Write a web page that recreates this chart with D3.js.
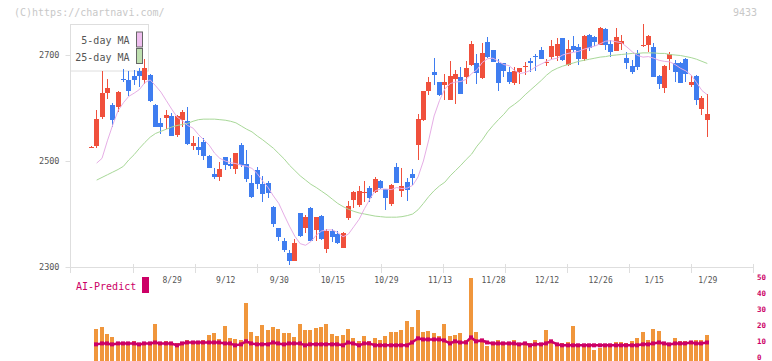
<!DOCTYPE html>
<html><head><meta charset="utf-8">
<script src="https://cdn.jsdelivr.net/npm/d3@7/dist/d3.min.js"></script>
<style>body{margin:0;background:#fff}svg{display:block}</style>
</head><body><svg id="c" width="772" height="361"></svg>
<script>
// ---- data (index 0 = first candle, 115 = 1/29) ----
const openP = [2525,2529,2583,2629,2606,2601,2655,2653,2660,2670,2652,2662,2606,2572,2582,2585,2549,2577,2575,2529,
2526,2535,2509,2475,2469,2507,2495,2485,2530,2494,2459,2483,2457,2459,2414,2373,2349,2326,2312,2401,
2373,2411,2370,2396,2334,2367,2363,2336,2393,2426,2417,2439,2450,2441,2462,2447,2419,2488,2444,2460,
2476,2531,2577,2632,2668,2649,2644,2616,2655,2658,2658,2681,2684,2657,2725,2709,2685,2684,2667,2647,
2668,2679,2689,2699,2709,2685,2696,2699,2732,2682,2717,2715,2693,2737,2734,2719,2750,2720,2708,2721,
2694,2679,2704,2718,2718,2715,2660,2638,2693,2684,2684,2693,2644,2660,2599,2578];
const highP = [2528,2596,2670,2655,2609,2633,2674,2670,2672,2675,2692,2664,2607,2582,2596,2590,2587,2596,2601,2547,
2546,2543,2511,2486,2499,2508,2505,2516,2534,2520,2474,2488,2472,2463,2415,2374,2354,2333,2352,2402,
2398,2413,2395,2398,2371,2371,2367,2366,2424,2443,2452,2462,2452,2470,2464,2448,2456,2497,2486,2468,
2485,2589,2633,2658,2694,2650,2665,2689,2672,2677,2688,2726,2701,2723,2734,2710,2693,2685,2677,2677,
2676,2686,2694,2701,2715,2693,2729,2732,2733,2728,2736,2721,2737,2740,2736,2753,2751,2728,2751,2737,
2706,2691,2709,2759,2737,2723,2662,2681,2706,2690,2686,2694,2662,2662,2623,2627];
const lowP = [2524,2525,2579,2617,2565,2592,2650,2623,2643,2640,2646,2612,2564,2551,2560,2547,2546,2565,2531,2521,
2511,2502,2486,2466,2462,2483,2485,2475,2489,2460,2431,2447,2423,2430,2376,2350,2329,2304,2311,2356,
2365,2349,2350,2351,2326,2348,2343,2336,2389,2411,2414,2423,2423,2439,2447,2407,2415,2458,2433,2424,
2454,2501,2575,2625,2644,2623,2616,2615,2608,2626,2646,2680,2646,2654,2695,2686,2632,2658,2646,2643,
2646,2662,2668,2669,2692,2679,2692,2688,2689,2679,2706,2682,2688,2707,2717,2718,2709,2696,2708,2709,
2674,2665,2671,2716,2706,2659,2636,2628,2672,2649,2647,2649,2640,2606,2587,2545];
const closeP = [2527,2579,2628,2638,2578,2631,2652,2633,2653,2661,2675,2614,2565,2565,2587,2548,2584,2593,2533,2534,
2521,2510,2487,2469,2485,2492,2490,2515,2492,2466,2433,2456,2437,2440,2382,2357,2332,2312,2346,2358,
2394,2350,2394,2352,2368,2356,2346,2365,2415,2441,2443,2442,2431,2466,2450,2431,2455,2459,2453,2446,
2467,2579,2632,2649,2663,2625,2649,2660,2665,2627,2675,2720,2666,2704,2696,2687,2647,2670,2649,2670,
2676,2680,2684,2698,2693,2686,2717,2720,2690,2711,2709,2693,2736,2713,2725,2751,2718,2706,2734,2726,
2684,2668,2677,2719,2736,2659,2646,2679,2701,2668,2648,2665,2649,2616,2619,2588];
const ma5 = [null,2496,2505,2538,2568,2595,2610,2622,2628,2635,2648,2653,2642,2630,2614,2598,2583,2576,2567,2562,
2550,2540,2530,2515,2505,2500,2497,2495,2492,2490,2486,2476,2462,2450,2434,2420,2398,2377,2358,2344,
2341,2348,2360,2368,2370,2370,2365,2357,2362,2376,2390,2410,2428,2444,2447,2447,2446,2450,2448,2449,
2454,2470,2500,2540,2585,2614,2636,2646,2649,2650,2654,2665,2672,2686,2693,2694,2688,2682,2680,2671,
2665,2667,2671,2678,2683,2688,2692,2694,2700,2703,2705,2707,2711,2714,2717,2721,2726,2727,2725,2723,
2715,2706,2699,2696,2697,2694,2690,2688,2687,2682,2675,2670,2662,2648,2633,2625];
const ma25 = [null,2464,2469,2474,2479,2484,2490,2502,2512,2524,2535,2545,2552,2556,2560,2564,2567,2569,2571,2575,
2578,2579,2579,2579,2578,2577,2575,2572,2566,2560,2555,2547,2540,2532,2524,2514,2504,2492,2482,2472,
2464,2456,2450,2443,2436,2428,2420,2414,2409,2405,2402,2400,2398,2396,2395,2394,2394,2394,2395,2397,
2400,2408,2420,2433,2444,2453,2460,2472,2482,2492,2503,2513,2528,2540,2555,2567,2578,2588,2600,2607,
2615,2625,2634,2643,2652,2662,2670,2675,2679,2682,2685,2688,2690,2692,2694,2696,2697,2699,2700,2701,
2702,2703,2703,2704,2704,2704,2703,2703,2701,2700,2699,2697,2695,2692,2688,2684];
const volume = [null,17.8,19.1,14.7,12.8,9.2,9.0,9.0,10.3,8.4,9.0,9.0,21.0,9.0,10.3,9.0,9.0,7.8,10.9,9.5,
9.8,10.9,14.0,15.7,11.5,19.7,12.2,11.5,10.9,34.2,15.9,13.4,20.3,17.2,19.1,17.8,15.3,15.3,12.8,21.0,
17.2,17.2,18.4,19.1,21.0,14.7,13.4,14.0,17.8,12.2,10.3,13.4,10.3,12.2,10.9,13.4,15.9,15.9,17.2,22.9,
19.1,29.8,15.9,16.6,15.3,13.4,21.0,13.4,14.0,15.3,11.3,49.9,15.9,10.9,7.1,9.6,10.9,9.6,9.0,10.9,
9.0,9.0,9.0,10.9,8.4,17.2,10.9,9.0,9.0,9.6,19.7,8.4,7.8,7.8,4.6,5.9,7.8,7.8,9.6,9.6,
9.0,10.3,12.2,15.9,10.9,17.8,16.6,9.0,7.8,12.2,10.3,10.3,10.3,10.9,10.9,14.0];
const aiPredict = [null,8.4,9,9,8.4,9,9,9,9,8.4,9,9,9.6,9,9,9,7.8,9,9.6,9.6,
9.6,9.6,9.6,9.6,9.6,9,9,7.8,8.4,10.3,9,8.4,8.4,8.4,9.6,9,8.4,9,9,9,
7.8,8.4,8.4,8.4,8.4,8.4,8.4,7.8,9.6,9,7.8,9,9,7.8,7.8,7.8,7.8,7.8,7.8,7.8,
9.6,12.2,11.5,11.5,11.5,11.5,10.9,9,10.3,9.6,9.6,12.8,10.3,10.9,9.6,9,9,9,9,9,
8.4,9,7.8,8.4,8.4,9,10.3,8.4,7.8,7.8,7.8,7.8,7.8,7.8,7.8,7.8,7.8,7.8,7.8,7.8,
7.8,7.8,7.8,8.4,8.4,9,9.6,9,8.4,9,9,9,9.6,9,9,9.6];
const dateLabels = ["8/29","9/12","9/30","10/15","10/29","11/13","11/28","12/12","12/26","1/15","1/29"];
const dateIndex = [15,25,35,45,55,65,75,85,95,105,115];
const priceTicks = [2300,2500,2700];
const volTicks = [0,10,20,30,40,50];
const legendNames = ["5-day MA","25-day MA"];

// ---- drawing ----
const svg = d3.select("#c");
const mono = "'DejaVu Sans Mono', monospace";
const RED = "#f0503c", BLUE = "#3f7df0", GRID = "#dedede";
const N = closeP.length;
const x = d3.scaleLinear().domain([0, N - 1]).range([91.3, 707.3]);
const y = d3.scaleLinear().domain([2300, 2700]).range([267, 55]);
const yv = d3.scaleLinear().domain([0, 50]).range([357.7, 278.3]);
const gx = d3.scaleLinear().domain([0, 11]).range([70.5, 752.5]);
const left = i => Math.round(x(i) - 2.5);

svg.append("rect").attr("width", 772).attr("height", 361).attr("fill", "#fff");

// watermark
svg.append("text").attr("x", 14).attr("y", 12.5).attr("dominant-baseline", "central")
  .attr("font-family", mono).attr("font-size", 10).attr("fill", "#c8c8c8").text("(C)https://chartnavi.com/");
svg.append("text").attr("x", 757).attr("y", 12.5).attr("text-anchor", "end").attr("dominant-baseline", "central")
  .attr("font-family", mono).attr("font-size", 10).attr("fill", "#c8c8c8").text("9433");

// axes frame
svg.append("line").attr("x1", 70.5).attr("x2", 70.5).attr("y1", 24).attr("y2", 273).attr("stroke", GRID);
svg.append("line").attr("x1", 70).attr("x2", 753).attr("y1", 267.5).attr("y2", 267.5).attr("stroke", GRID);
svg.append("g").selectAll("line").data(d3.range(1, 12)).join("line")
  .attr("x1", d => Math.round(gx(d)) + 0.5).attr("x2", d => Math.round(gx(d)) + 0.5)
  .attr("y1", 264).attr("y2", 273).attr("stroke", GRID);

// y axis
const ya = svg.append("g").attr("transform", "translate(70.5,0)")
  .call(d3.axisLeft(y).tickValues(priceTicks).tickSize(5).tickPadding(6).tickFormat(d3.format("d")));
ya.select(".domain").remove();
ya.selectAll("line").attr("stroke", GRID);
ya.selectAll("text").attr("font-family", mono).attr("font-size", 8.5).attr("fill", "#555");

// date labels
const xa = svg.append("g").attr("transform", "translate(0,277)")
  .call(d3.axisBottom(x).tickValues(dateIndex).tickSize(0).tickPadding(0)
    .tickFormat((d, k) => dateLabels[k]));
xa.select(".domain").remove();
xa.selectAll("text").attr("font-family", mono).attr("font-size", 8).attr("fill", "#555");

// legend
svg.append("rect").attr("x", 70.5).attr("y", 24.5).attr("width", 78).attr("height", 46.5)
  .attr("fill", "#fff").attr("stroke", GRID);
const legCol = ["#efbfef", "#bfe0b0"];
legendNames.forEach((nm, k) => {
  const cy = 40.5 + k * 16.5;
  svg.append("text").attr("x", 129.5).attr("y", cy).attr("text-anchor", "end").attr("dominant-baseline", "central")
    .attr("font-family", mono).attr("font-size", 10).attr("fill", "#555").text(nm);
  svg.append("rect").attr("x", 136.5).attr("y", cy - 8.5).attr("width", 6).attr("height", 15)
    .attr("fill", legCol[k]).attr("stroke", "#666");
});

// candles
const idx = d3.range(N);
const cg = svg.append("g");
cg.selectAll("rect.w").data(idx).join("rect").attr("class", "w")
  .attr("x", i => left(i) + 2).attr("width", 1)
  .attr("y", i => Math.round(y(highP[i])))
  .attr("height", i => Math.max(1, Math.round(y(lowP[i])) - Math.round(y(highP[i]))))
  .attr("fill", i => closeP[i] >= openP[i] ? RED : BLUE);
cg.selectAll("rect.b").data(idx).join("rect").attr("class", "b")
  .attr("x", i => left(i)).attr("width", 5)
  .attr("y", i => Math.round(y(Math.max(openP[i], closeP[i]))))
  .attr("height", i => Math.max(1, Math.round(y(Math.min(openP[i], closeP[i]))) - Math.round(y(Math.max(openP[i], closeP[i])))))
  .attr("fill", i => closeP[i] >= openP[i] ? RED : BLUE);

// moving averages
const maLine = arr => d3.line().defined(i => arr[i] != null).x(i => x(i)).y(i => y(arr[i]))(idx);
svg.append("path").attr("d", maLine(ma25)).attr("fill", "none").attr("stroke", "#a8d898").attr("stroke-width", 1);
svg.append("path").attr("d", maLine(ma5)).attr("fill", "none").attr("stroke", "#e6aee6").attr("stroke-width", 1);

// AI-Predict panel
svg.append("text").attr("x", 76).attr("y", 286).attr("dominant-baseline", "central")
  .attr("font-family", mono).attr("font-size", 10).attr("fill", "#cc0066").text("AI-Predict");
svg.append("rect").attr("x", 142).attr("y", 277).attr("width", 7).attr("height", 16).attr("fill", "#cc0066");

const vIdx = idx.filter(i => volume[i] != null);
svg.append("g").selectAll("rect").data(vIdx).join("rect")
  .attr("x", i => left(i)).attr("width", 4)
  .attr("y", i => Math.round(yv(volume[i])))
  .attr("height", i => 361 - Math.round(yv(volume[i])))
  .attr("fill", "#f0963c");

const aIdx = idx.filter(i => aiPredict[i] != null);
svg.append("path").attr("d", d3.line().x(i => left(i) + 2).y(i => yv(aiPredict[i]))(aIdx))
  .attr("fill", "none").attr("stroke", "#cc0066").attr("stroke-width", 2.5);
svg.append("g").selectAll("rect").data(aIdx).join("rect")
  .attr("x", i => left(i)).attr("y", i => yv(aiPredict[i]) - 2).attr("width", 4).attr("height", 4)
  .attr("fill", "#cc0066");

const ra = svg.append("g").attr("transform", "translate(757,-1)")
  .call(d3.axisRight(yv).tickValues(volTicks).tickSize(0).tickPadding(0));
ra.select(".domain").remove();
ra.selectAll("text").attr("font-family", mono).attr("font-size", 7.5).attr("font-weight", "bold").attr("fill", "#cc0066");
</script></body></html>
